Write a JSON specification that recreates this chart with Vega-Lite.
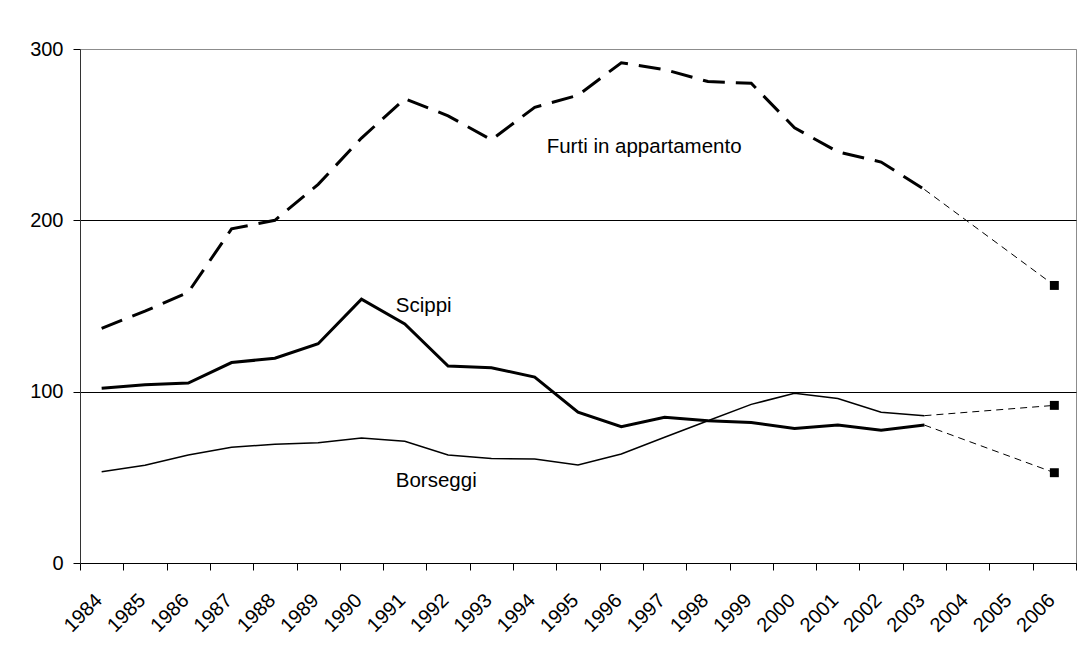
{
  "$schema": "https://vega.github.io/schema/vega-lite/v6.json",
  "width": 996,
  "height": 514,
  "autosize": {"type": "none"},
  "padding": {"left": 80, "top": 49, "right": 1, "bottom": 82},
  "background": "white",
  "config": {
    "view": {"stroke": "#8c8c8c", "strokeWidth": 1},
    "font": "Liberation Sans"
  },
  "datasets": {
    "main": [
      {"year": "1984", "series": "Furti", "value": 137},
      {"year": "1985", "series": "Furti", "value": 147},
      {"year": "1986", "series": "Furti", "value": 158},
      {"year": "1987", "series": "Furti", "value": 195},
      {"year": "1988", "series": "Furti", "value": 200},
      {"year": "1989", "series": "Furti", "value": 221},
      {"year": "1990", "series": "Furti", "value": 248},
      {"year": "1991", "series": "Furti", "value": 271},
      {"year": "1992", "series": "Furti", "value": 261},
      {"year": "1993", "series": "Furti", "value": 247},
      {"year": "1994", "series": "Furti", "value": 266},
      {"year": "1995", "series": "Furti", "value": 273},
      {"year": "1996", "series": "Furti", "value": 292},
      {"year": "1997", "series": "Furti", "value": 288},
      {"year": "1998", "series": "Furti", "value": 281},
      {"year": "1999", "series": "Furti", "value": 280},
      {"year": "2000", "series": "Furti", "value": 254},
      {"year": "2001", "series": "Furti", "value": 240},
      {"year": "2002", "series": "Furti", "value": 234},
      {"year": "2003", "series": "Furti", "value": 218},
      {"year": "1984", "series": "Scippi", "value": 102},
      {"year": "1985", "series": "Scippi", "value": 104},
      {"year": "1986", "series": "Scippi", "value": 105},
      {"year": "1987", "series": "Scippi", "value": 117},
      {"year": "1988", "series": "Scippi", "value": 119.5},
      {"year": "1989", "series": "Scippi", "value": 128},
      {"year": "1990", "series": "Scippi", "value": 154},
      {"year": "1991", "series": "Scippi", "value": 139.5},
      {"year": "1992", "series": "Scippi", "value": 115},
      {"year": "1993", "series": "Scippi", "value": 114},
      {"year": "1994", "series": "Scippi", "value": 108.5},
      {"year": "1995", "series": "Scippi", "value": 88},
      {"year": "1996", "series": "Scippi", "value": 79.5},
      {"year": "1997", "series": "Scippi", "value": 85},
      {"year": "1998", "series": "Scippi", "value": 83},
      {"year": "1999", "series": "Scippi", "value": 82},
      {"year": "2000", "series": "Scippi", "value": 78.5},
      {"year": "2001", "series": "Scippi", "value": 80.5},
      {"year": "2002", "series": "Scippi", "value": 77.5},
      {"year": "2003", "series": "Scippi", "value": 80.5},
      {"year": "1984", "series": "Borseggi", "value": 53.3},
      {"year": "1985", "series": "Borseggi", "value": 57},
      {"year": "1986", "series": "Borseggi", "value": 63},
      {"year": "1987", "series": "Borseggi", "value": 67.5},
      {"year": "1988", "series": "Borseggi", "value": 69.3},
      {"year": "1989", "series": "Borseggi", "value": 70.2},
      {"year": "1990", "series": "Borseggi", "value": 73},
      {"year": "1991", "series": "Borseggi", "value": 71},
      {"year": "1992", "series": "Borseggi", "value": 63},
      {"year": "1993", "series": "Borseggi", "value": 61},
      {"year": "1994", "series": "Borseggi", "value": 60.7},
      {"year": "1995", "series": "Borseggi", "value": 57.2},
      {"year": "1996", "series": "Borseggi", "value": 63.6},
      {"year": "1997", "series": "Borseggi", "value": 73.4},
      {"year": "1998", "series": "Borseggi", "value": 83},
      {"year": "1999", "series": "Borseggi", "value": 92.6},
      {"year": "2000", "series": "Borseggi", "value": 99},
      {"year": "2001", "series": "Borseggi", "value": 96},
      {"year": "2002", "series": "Borseggi", "value": 88},
      {"year": "2003", "series": "Borseggi", "value": 86}
    ],
    "ext": [
      {"year": "2003", "series": "Furti", "value": 218},
      {"year": "2006", "series": "Furti", "value": 162},
      {"year": "2003", "series": "Scippi", "value": 80.5},
      {"year": "2006", "series": "Scippi", "value": 52.7},
      {"year": "2003", "series": "Borseggi", "value": 86},
      {"year": "2006", "series": "Borseggi", "value": 92}
    ],
    "labels": [
      {"year": "1994", "value": 239.5, "text": "Furti in appartamento"},
      {"year": "1991", "value": 146.7, "text": "Scippi"},
      {"year": "1991", "value": 44.5, "text": "Borseggi"}
    ]
  },
  "layer": [
    {
      "data": {"name": "ext"},
      "mark": {"type": "line", "color": "#000", "strokeWidth": 1, "strokeDash": [7, 5]},
      "encoding": {
        "x": {
          "field": "year",
          "type": "ordinal",
          "scale": {
            "domain": ["1984","1985","1986","1987","1988","1989","1990","1991","1992","1993","1994","1995","1996","1997","1998","1999","2000","2001","2002","2003","2004","2005","2006"],
            "paddingInner": 0,
            "paddingOuter": 0
          },
          "axis": {
            "title": null,
            "tickBand": "extent",
            "labelAngle": -45,
            "labelAlign": "right",
            "labelBaseline": "middle",
            "labelFont": "Liberation Sans",
            "labelColor": "#000",
            "labelFontSize": 20,
            "labelPadding": 27,
            "labelOffset": -3,
            "labelOverlap": false,
            "labelLimit": 0,
            "tickSize": 7,
            "tickColor": "#000",
            "domainColor": "#000",
            "grid": false
          }
        },
        "y": {
          "field": "value",
          "type": "quantitative",
          "scale": {"domain": [0, 300], "nice": false, "zero": true},
          "axis": {
            "title": null,
            "values": [0, 100, 200, 300],
            "labelFont": "Liberation Sans",
            "labelColor": "#000",
            "labelFontSize": 20,
            "labelPadding": 10,
            "tickSize": 7,
            "tickColor": "#000",
            "domainColor": "#333",
            "grid": true,
            "gridColor": {"condition": {"test": "datum.value === 300", "value": "#8c8c8c"}, "value": "#000"},
            "gridWidth": 1
          }
        },
        "detail": {"field": "series"}
      }
    },
    {
      "data": {"name": "main"},
      "transform": [{"filter": "datum.series === 'Borseggi'"}],
      "mark": {"type": "line", "color": "#000", "strokeWidth": 1.5},
      "encoding": {"x": {"field": "year", "type": "ordinal"}, "y": {"field": "value", "type": "quantitative"}}
    },
    {
      "data": {"name": "main"},
      "transform": [{"filter": "datum.series === 'Scippi'"}],
      "mark": {"type": "line", "color": "#000", "strokeWidth": 3},
      "encoding": {"x": {"field": "year", "type": "ordinal"}, "y": {"field": "value", "type": "quantitative"}}
    },
    {
      "data": {"name": "main"},
      "transform": [{"filter": "datum.series === 'Furti'"}],
      "mark": {"type": "line", "color": "#000", "strokeWidth": 3, "strokeDash": [22, 11]},
      "encoding": {"x": {"field": "year", "type": "ordinal"}, "y": {"field": "value", "type": "quantitative"}}
    },
    {
      "data": {"name": "ext"},
      "transform": [{"filter": "datum.year === '2006'"}],
      "mark": {"type": "square", "color": "#000", "filled": true, "size": 80, "opacity": 1},
      "encoding": {"x": {"field": "year", "type": "ordinal"}, "y": {"field": "value", "type": "quantitative"}}
    },
    {
      "data": {"name": "labels"},
      "mark": {"type": "text", "align": "left", "baseline": "alphabetic", "fontSize": 20.5, "font": "Liberation Sans", "color": "#000", "dx": -9},
      "transform": [{"filter": "datum.year === '1991'"}],
      "encoding": {"x": {"field": "year", "type": "ordinal"}, "y": {"field": "value", "type": "quantitative"}, "text": {"field": "text"}}
    },
    {
      "data": {"name": "labels"},
      "mark": {"type": "text", "align": "left", "baseline": "alphabetic", "fontSize": 20.5, "font": "Liberation Sans", "color": "#000", "dx": 12},
      "transform": [{"filter": "datum.year === '1994'"}],
      "encoding": {"x": {"field": "year", "type": "ordinal"}, "y": {"field": "value", "type": "quantitative"}, "text": {"field": "text"}}
    }
  ]
}
